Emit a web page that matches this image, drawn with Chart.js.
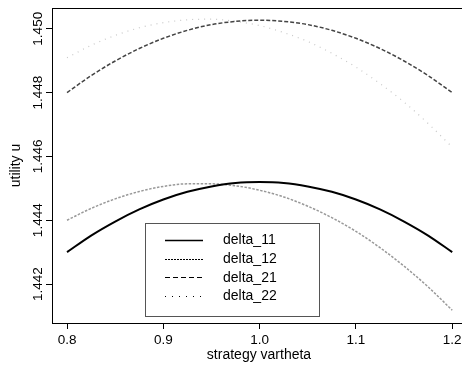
<!DOCTYPE html>
<html>
<head>
<meta charset="utf-8">
<script src="https://cdn.jsdelivr.net/npm/chart.js@4.4.0/dist/chart.umd.min.js"></script>
<style>
body { margin: 0; overflow: hidden; background: #fff; }
</style>
</head>
<body>
<canvas id="chart" width="470" height="368"></canvas>
<script>
Chart.defaults.font.family = "'Liberation Sans', Arial, sans-serif";
Chart.defaults.font.size = 13.5;
Chart.defaults.color = '#000';

// values
var xValues = [0.8, 0.825, 0.85, 0.875, 0.9, 0.925, 0.95, 0.975, 1.0, 1.025, 1.05, 1.075, 1.1, 1.125, 1.15, 1.175, 1.2];
var delta11 = [1.44300, 1.44352, 1.44396, 1.44434, 1.44465, 1.44489, 1.44506, 1.44517, 1.44520, 1.44517, 1.44506, 1.44489, 1.44465, 1.44434, 1.44396, 1.44352, 1.44300];
var delta12 = [1.44400, 1.44437, 1.44467, 1.44490, 1.44506, 1.44514, 1.44514, 1.44508, 1.44494, 1.44473, 1.44444, 1.44408, 1.44365, 1.44314, 1.44256, 1.44191, 1.44118];
var delta21 = [1.44800, 1.44853, 1.44899, 1.44938, 1.44970, 1.44995, 1.45013, 1.45023, 1.45027, 1.45023, 1.45013, 1.44995, 1.44970, 1.44938, 1.44899, 1.44853, 1.44800];
var delta22 = [1.44909, 1.44948, 1.44979, 1.45003, 1.45019, 1.45028, 1.45030, 1.45023, 1.45010, 1.44988, 1.44960, 1.44923, 1.44880, 1.44828, 1.44770, 1.44703, 1.44629];
var seriesNames = ['delta_11', 'delta_12', 'delta_21', 'delta_22'];
var xTicks = [0.8, 0.9, 1.0, 1.1, 1.2];
var yTicks = [1.442, 1.444, 1.446, 1.448, 1.450];

var TICK_FONT = "13.5px 'Liberation Sans', Arial, sans-serif";
var LEGEND_FONT = "14px 'Liberation Sans', Arial, sans-serif";

function pts(ys) {
    return xValues.map(function(x, i) { return {x: x, y: ys[i]}; });
}

// legend samples are black, the plotted lines are grey shades
var legendDash = [[], [2, 1], [5, 3], [1, 6]];
var legendWidth = [1.5, 1, 1, 1];

var framePlugin = {
    id: 'frame',
    afterDraw: function(chart) {
        var ctx = chart.ctx, a = chart.chartArea, ys = chart.scales.y;
        ctx.save();
        // box around plot (right side falls outside window)
        ctx.strokeStyle = '#000';
        ctx.lineWidth = 1;
        ctx.beginPath();
        ctx.moveTo(a.left, a.top + 0.5);
        ctx.lineTo(a.right, a.top + 0.5);
        ctx.stroke();

        // rotated y tick labels
        ctx.fillStyle = '#000';
        ctx.font = TICK_FONT;
        ctx.textAlign = 'center';
        ctx.textBaseline = 'alphabetic';
        yTicks.forEach(function(v) {
            ctx.save();
            ctx.translate(42, ys.getPixelForValue(v));
            ctx.rotate(-Math.PI / 2);
            ctx.fillText(v.toFixed(3), 0, 0);
            ctx.restore();
        });

        // legend
        ctx.strokeStyle = '#555';
        ctx.lineWidth = 1;
        ctx.strokeRect(145.5, 223.5, 174, 93);
        ctx.font = LEGEND_FONT;
        ctx.textAlign = 'left';
        ctx.textBaseline = 'middle';
        for (var i = 0; i < seriesNames.length; i++) {
            var yy = 240 + i * 18.7;
            ctx.strokeStyle = '#000';
            ctx.lineWidth = legendWidth[i];
            ctx.setLineDash(legendDash[i]);
            ctx.beginPath();
            ctx.moveTo(165, Math.round(yy) + 0.5);
            ctx.lineTo(203, Math.round(yy) + 0.5);
            ctx.stroke();
            ctx.setLineDash([]);
            ctx.fillText(seriesNames[i], 223, yy + 0.5);
        }
        ctx.restore();
    }
};

new Chart(document.getElementById('chart'), {
    type: 'line',
    data: {
        datasets: [{
            label: seriesNames[0],
            data: pts(delta11),
            borderColor: '#000',
            borderWidth: 2,
            order: 1
        }, {
            label: seriesNames[1],
            data: pts(delta12),
            borderColor: '#999',
            borderWidth: 1.5,
            borderDash: [2.5, 1.5],
            order: 2
        }, {
            label: seriesNames[2],
            data: pts(delta21),
            borderColor: '#444',
            borderWidth: 1.5,
            borderDash: [4, 2],
            order: 3
        }, {
            label: seriesNames[3],
            data: pts(delta22),
            borderColor: '#c8c8c8',
            borderWidth: 1.2,
            borderDash: [1, 5],
            order: 4
        }]
    },
    options: {
        responsive: false,
        animation: false,
        devicePixelRatio: 1,
        layout: { padding: { top: 8, right: 4, left: 0, bottom: 0 } },
        elements: { point: { radius: 0 }, line: { tension: 0.4, cubicInterpolationMode: 'monotone' } },
        plugins: {
            legend: { display: false },
            tooltip: { enabled: false }
        },
        scales: {
            x: {
                type: 'linear',
                min: 0.7844,
                max: 1.2143,
                afterBuildTicks: function(scale) {
                    scale.ticks = xTicks.map(function(v) { return {value: v}; });
                },
                afterFit: function(scale) { scale.height = 45; },
                grid: { drawOnChartArea: false, drawTicks: true, tickLength: 6, color: '#000' },
                border: { display: true, color: '#000', width: 1 },
                ticks: {
                    padding: 3,
                    maxRotation: 0,
                    callback: function(v) { return Number(v).toFixed(1); }
                },
                title: { display: true, text: 'strategy vartheta', font: { size: 14 }, padding: { top: 0, bottom: 4 } }
            },
            y: {
                type: 'linear',
                min: 1.44078,
                max: 1.45065,
                afterBuildTicks: function(scale) {
                    scale.ticks = yTicks.map(function(v) { return {value: v}; });
                },
                afterFit: function(scale) { scale.width = 52; },
                grid: { drawOnChartArea: false, drawTicks: true, tickLength: 6, color: '#000' },
                border: { display: true, color: '#000', width: 1 },
                ticks: { display: false },
                title: { display: true, text: 'utility u', font: { size: 14 }, padding: { top: 8, bottom: 0 } }
            }
        }
    },
    plugins: [framePlugin]
});
</script>
</body>
</html>
